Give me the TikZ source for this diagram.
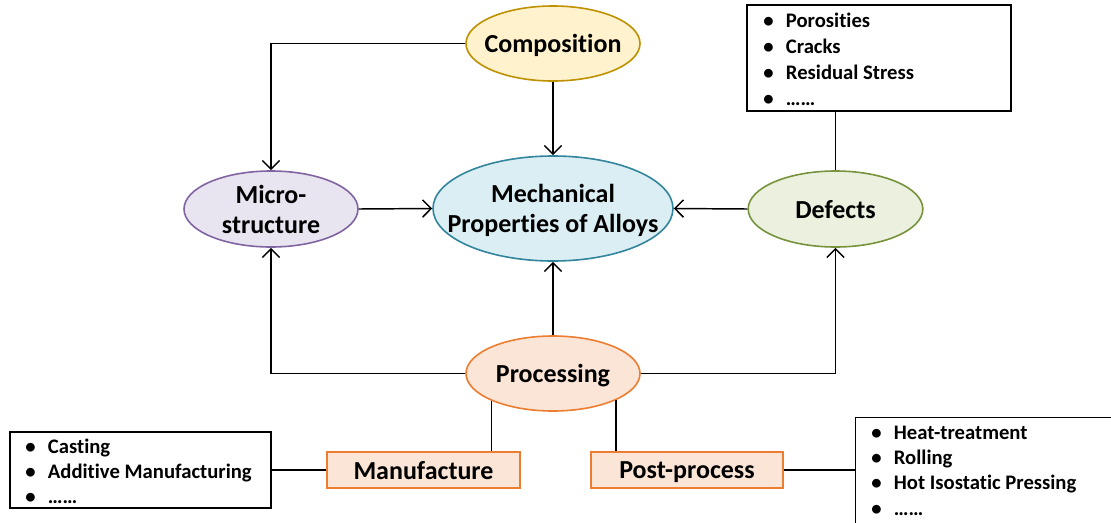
\documentclass[tikz,border=0pt]{standalone}
\usepackage{fontspec}
\setmainfont{Carlito}[Ligatures={NoCommon}]
\usetikzlibrary{shapes.geometric,arrows.meta}

\definecolor{compFill}{HTML}{FFF2CC}
\definecolor{compLine}{HTML}{BF9000}
\definecolor{mechFill}{HTML}{DAEEF3}
\definecolor{mechLine}{HTML}{31859C}
\definecolor{microFill}{HTML}{E9E5F0}
\definecolor{microLine}{HTML}{8064A2}
\definecolor{defFill}{HTML}{EBF1DE}
\definecolor{defLine}{HTML}{77933C}
\definecolor{procFill}{HTML}{FBE5D6}
\definecolor{procLine}{HTML}{ED7D31}

\tikzset{
  bubble/.style={ellipse, draw, line width=1.2pt, inner sep=0pt, inner xsep=-6pt,
    text depth=0pt, align=center,
    font=\fontsize{19.5}{22.5}\selectfont\bfseries},
  stagebox/.style={rectangle, draw=procLine, fill=procFill, line width=1.2pt,
    inner sep=0pt, minimum width=144pt, minimum height=27pt, text depth=0pt,
    font=\fontsize{19.5}{22.5}\selectfont\bfseries},
  listbox/.style={rectangle, draw=black, line width=1.1pt, inner sep=0pt},
  listtext/.style={inner sep=0pt, anchor=base west},
  link/.style={draw=black, line width=1.1pt},
  arr/.style={link, -{Straight Barb[length=6.5pt,width=13pt,line width=1.1pt]}},
}

\newcommand{\itemrows}[2]{%
  \fontsize{15.5}{#1}\selectfont\bfseries
  \begin{tabular}[t]{@{}p{17pt}@{}l@{}}#2\end{tabular}}

\begin{document}
\begin{tikzpicture}[x=0.75pt,y=-0.75pt]
  \clip (0,0) rectangle (1111,522);
  \fill[white] (0,0) rectangle (1111,522);

  % central property and its influences
  \node[bubble, fill=mechFill, draw=mechLine, inner xsep=-16pt,
        minimum width=180pt, minimum height=78.75pt]
    (mech) at (553,208.5) {Mechanical\\Properties of Alloys};
  \node[bubble, fill=compFill, draw=compLine, minimum width=130.5pt, minimum height=56.25pt]
    (comp) at (553,43.5) {Composition};
  \node[bubble, fill=microFill, draw=microLine, minimum width=130.5pt, minimum height=57pt]
    (micro) at (271,209) {Micro-\\structure};
  \node[bubble, fill=defFill, draw=defLine, minimum width=131pt, minimum height=57pt]
    (defects) at (835.5,209) {Defects};
  \node[bubble, fill=procFill, draw=procLine, minimum width=130.5pt, minimum height=56.25pt]
    (proc) at (553,373.5) {Processing};

  % processing stages
  \node[stagebox, minimum width=144.75pt] (manuf) at (423.5,470) {Manufacture};
  \node[stagebox, minimum width=144pt] (post) at (687,470) {Post-process};

  % example lists
  \node[listbox, minimum width=198pt, minimum height=79.5pt] (deflist) at (879,58) {};
  \node[listtext] (deftxt) at (763,27) {\itemrows{19.5}{%
    \textbullet & Porosities\\ \textbullet & Cracks\\
    \textbullet & Residual Stress\\ \textbullet & ……}};

  \node[listbox, minimum width=195.75pt, minimum height=57pt] (manlist) at (140.5,470) {};
  \node[listtext] (mantxt) at (25,453) {\itemrows{18.75}{%
    \textbullet & Casting\\ \textbullet & Additive Manufacturing\\
    \textbullet & ……}};

  \node[listbox, anchor=north west, minimum width=210pt, minimum height=90pt]
    (postlist) at (855,417) {};
  \node[listtext] (posttxt) at (871,439) {\itemrows{19}{%
    \textbullet & Heat-treatment\\ \textbullet & Rolling\\
    \textbullet & Hot Isostatic Pressing\\ \textbullet & ……}};

  % influences on the properties
  \draw[arr] (comp.west) -| (micro.north);
  \draw[arr] (comp.south) -- (mech.north);
  \draw[arr] (micro.east) -- (mech.west);
  \draw[arr] (defects.west) -- (mech.east);
  \draw[arr] (proc.north) -- (mech.south);
  \draw[arr] (proc.west) -| (micro.south);
  \draw[arr] (proc.east) -| (defects.south);
  \draw[link] (defects.north) -- (defects.north |- deflist.south);

  % processing branches and their examples
  \draw[link] (proc.204.4) -- (proc.204.4 |- manuf.north);
  \draw[link] (proc.337.7) -- (proc.337.7 |- post.north);
  \draw[link] (manuf.west) -- (manlist.east);
  \draw[link] (post.east) -- (post.east -| postlist.west);
\end{tikzpicture}
\end{document}
